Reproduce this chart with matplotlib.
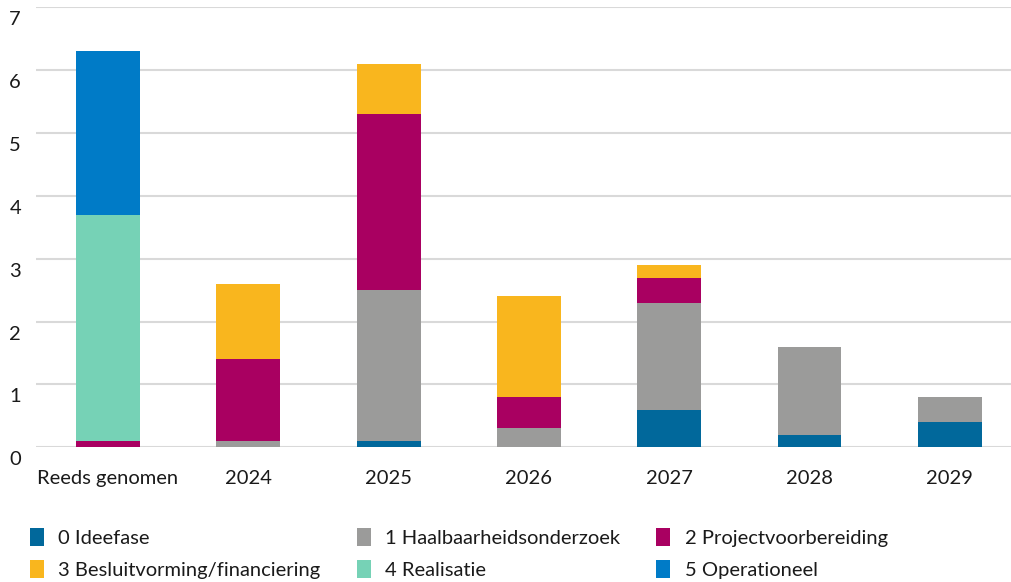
import matplotlib.pyplot as plt
import matplotlib.transforms as mtransforms
from matplotlib.patches import Patch
import numpy as np

plt.rcParams['font.family'] = ['Lato', 'DejaVu Sans']

categories = ["Reeds genomen", "2024", "2025", "2026", "2027", "2028", "2029"]
fasen = ["0 Ideefase", "1 Haalbaarheidsonderzoek", "2 Projectvoorbereiding",
         "3 Besluitvorming/financiering", "4 Realisatie", "5 Operationeel"]
colors = ["#01689B", "#9B9B9A", "#A90061", "#F9B61E", "#76D2B6", "#007BC7"]

ideefase = [0.0, 0.0, 0.1, 0.0, 0.6, 0.2, 0.4]
haalbaarheid = [0.0, 0.1, 2.4, 0.3, 1.7, 1.4, 0.4]
projectvoorbereiding = [0.1, 1.3, 2.8, 0.5, 0.4, 0.0, 0.0]
besluitvorming = [0.0, 1.2, 0.8, 1.6, 0.2, 0.0, 0.0]
realisatie = [3.6, 0.0, 0.0, 0.0, 0.0, 0.0, 0.0]
operationeel = [2.6, 0.0, 0.0, 0.0, 0.0, 0.0, 0.0]

series = [ideefase, haalbaarheid, projectvoorbereiding, besluitvorming, realisatie, operationeel]

fig = plt.figure(figsize=(10.11, 5.82), dpi=100)
ax = fig.add_axes([36/1011, 1 - 447.3/582, 1 - 36/1011, (447.3 - 7.3)/582])

x = np.arange(len(categories))
bottom = np.zeros(len(categories))
for vals, c in zip(series, colors):
    ax.bar(x, vals, width=0.455, bottom=bottom, color=c, zorder=3)
    bottom += np.array(vals)

ax.set_xlim(-0.513, 6.436)
ax.set_ylim(0, 7)
ax.set_yticks(range(8))
ax.set_yticklabels([str(i) for i in range(8)])
ax.set_xticks(x)
ax.set_xticklabels(categories)
ax.grid(axis='y', color='#d9d9d9', linewidth=1.5, zorder=0)
ax.set_axisbelow(True)
for s in ax.spines.values():
    s.set_visible(False)
ax.tick_params(axis='both', length=0, labelsize=14.5, colors='#1a1a1a')
ax.tick_params(axis='x', pad=16)
ax.tick_params(axis='y', pad=15)

offset = mtransforms.ScaledTranslation(0, -11/100, fig.dpi_scale_trans)
for lab in ax.get_yticklabels():
    lab.set_transform(lab.get_transform() + offset)
    lab.set_horizontalalignment('center')

handles = [Patch(facecolor=c, edgecolor='none') for c in colors]
order = [0, 3, 1, 4, 2, 5]
fig.legend([handles[i] for i in order], [fasen[i] for i in order],
           ncol=3, loc='upper left', bbox_to_anchor=(12/1011, 1 - 510/582),
           frameon=False, fontsize=14.5, handlelength=0.7, handleheight=1.0,
           handletextpad=0.7, columnspacing=1.8, labelspacing=0.65,
           labelcolor='#1a1a1a')

fig.savefig("out.png", dpi=100)
